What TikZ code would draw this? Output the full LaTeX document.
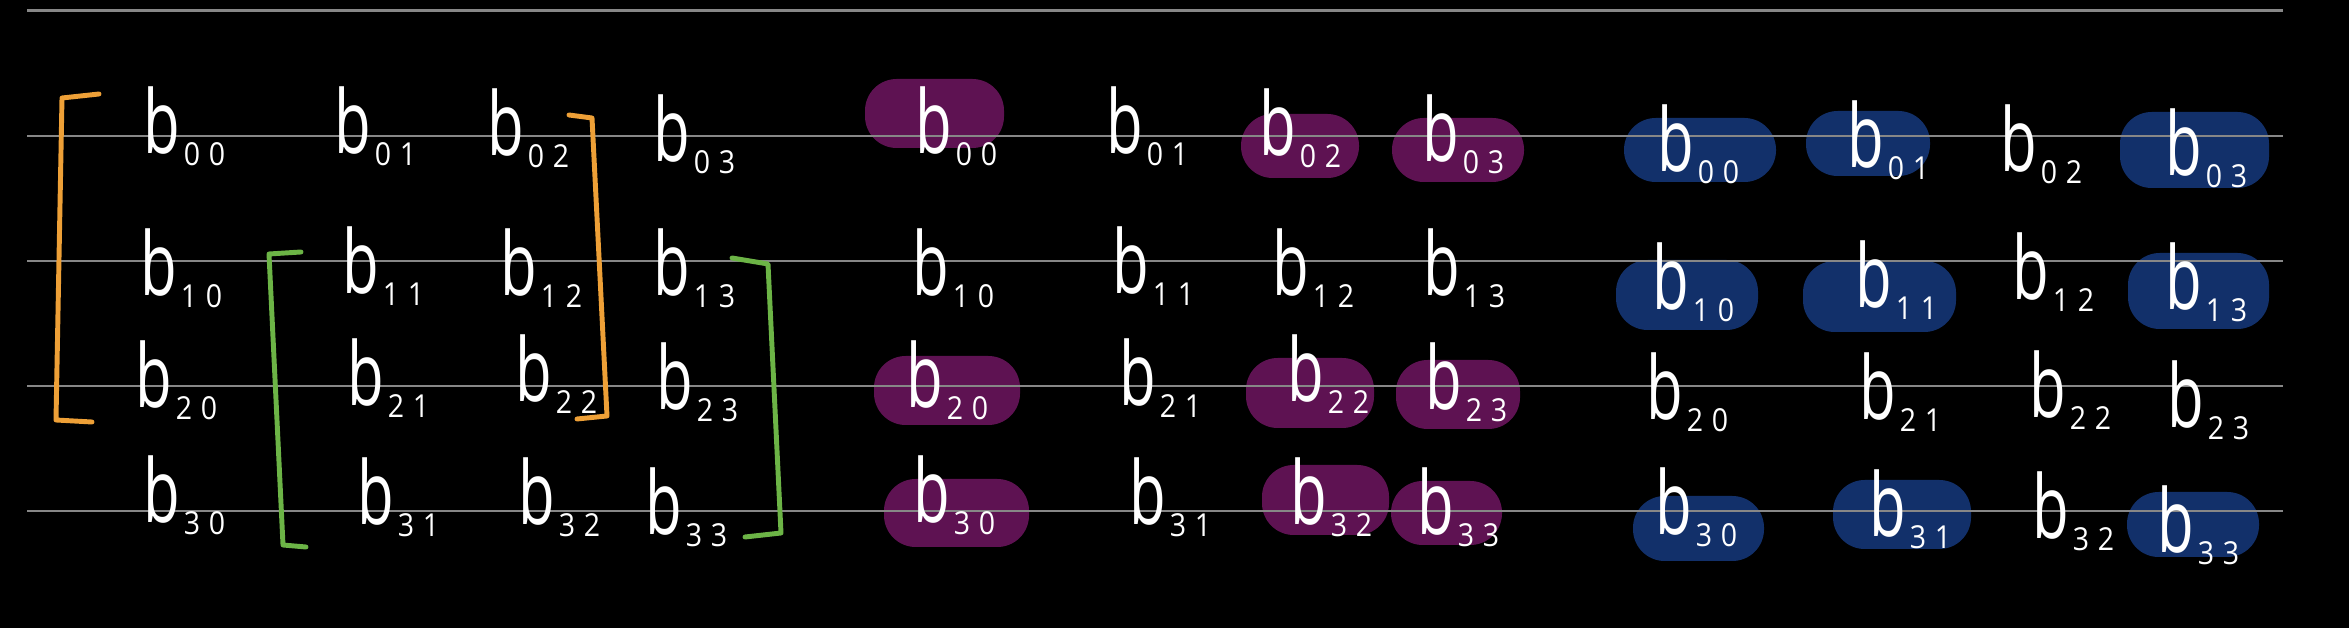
\documentclass[tikz,border=0pt]{standalone}
\usepackage{fontspec}
\usepackage{graphicx}
\setmainfont{Open Sans}
\definecolor{rulegray}{RGB}{135,135,135}
\definecolor{orng}{RGB}{238,160,55}
\definecolor{grn}{RGB}{108,180,70}
\definecolor{plum}{RGB}{94,18,82}
\definecolor{navy}{RGB}{18,48,106}
\newcommand{\bsub}[2]{\scalebox{0.68}[1]{b}\kern1pt\raisebox{-3.4pt}{\fontsize{9}{9}\selectfont\scalebox{0.9}[1]{#1}\kern2.5pt\scalebox{0.9}[1]{#2}}}
\tikzset{
  lab/.style={text=white, inner sep=0pt, anchor=base west, font=\fontsize{25}{25}\selectfont},
  rulel/.style={draw=rulegray, line width=0.6pt},
  brk/.style={line width=1.4pt, line cap=round, line join=round},
  blobP/.style={fill=plum, rounded corners=9pt},
  blobB/.style={fill=navy, rounded corners=9pt}
}
\begin{document}
\begin{tikzpicture}[x=0.01cm,y=-0.01cm]
\fill[black] (0,0) rectangle (2349,628);
\useasboundingbox (0,0) rectangle (2349,628);
% purple blobs
\fill[blobP] (865,79) rectangle (1004,148);
\fill[blobP] (1241,114) rectangle (1359,178);
\fill[blobP] (1392,118) rectangle (1524,182);
\fill[blobP] (874,356) rectangle (1020,425);
\fill[blobP] (1246,358) rectangle (1374,428);
\fill[blobP] (1396,360) rectangle (1520,429);
\fill[blobP] (884,479) rectangle (1029,547);
\fill[blobP] (1262,465) rectangle (1389,535);
\fill[blobP] (1391,481) rectangle (1502,545);
% blue blobs
\fill[blobB] (1624,118) rectangle (1776,182);
\fill[blobB] (1806,111) rectangle (1930,176);
\fill[blobB] (2120,112) rectangle (2269,188);
\fill[blobB] (1616,260) rectangle (1758,330);
\fill[blobB] (1803,261) rectangle (1956,332);
\fill[blobB] (2128,253) rectangle (2269,329);
\fill[blobB] (1633,496) rectangle (1764,561);
\fill[blobB] (1833,480) rectangle (1971,549);
\fill[blobB] (2127,492) rectangle (2259,557);
% ruled lines
\foreach \yy in {10.5,136,261,386,511}{\draw[rulel] (27,\yy) -- (2283,\yy);}
% brackets
\draw[brk, orng] (99,94) -- (62,98) -- (56,420) -- (92,422);
\draw[brk, orng] (569,115) -- (592,118) -- (607,416) -- (577,419);
\draw[brk, grn] (301,252) -- (269,254) -- (283,545) -- (306,547);
\draw[brk, grn] (732,258) -- (768,264) -- (781,533) -- (745,537);
% panel 1
\node[lab] (a00) at (143,154) {\bsub00};
\node[lab] (a01) at (334,154) {\bsub01};
\node[lab] (a02) at (487,156) {\bsub02};
\node[lab] (a03) at (653,162) {\bsub03};
\node[lab] (a10) at (140,296) {\bsub10};
\node[lab] (a11) at (342,294) {\bsub11};
\node[lab] (a12) at (500,296) {\bsub12};
\node[lab] (a13) at (653,296) {\bsub13};
\node[lab] (a20) at (135,408) {\bsub20};
\node[lab] (a21) at (347,406) {\bsub21};
\node[lab] (a22) at (515,402) {\bsub22};
\node[lab] (a23) at (656,410) {\bsub23};
\node[lab] (a30) at (143,523) {\bsub30};
\node[lab] (a31) at (357,525) {\bsub31};
\node[lab] (a32) at (518,525) {\bsub32};
\node[lab] (a33) at (645,535) {\bsub33};
% panel 2
\node[lab] (b00) at (915,154) {\bsub00};
\node[lab] (b01) at (1106,154) {\bsub01};
\node[lab] (b02) at (1259,156) {\bsub02};
\node[lab] (b03) at (1422,162) {\bsub03};
\node[lab] (b10) at (912,296) {\bsub10};
\node[lab] (b11) at (1112,294) {\bsub11};
\node[lab] (b12) at (1272,296) {\bsub12};
\node[lab] (b13) at (1423,296) {\bsub13};
\node[lab] (b20) at (906,408) {\bsub20};
\node[lab] (b21) at (1119,406) {\bsub21};
\node[lab] (b22) at (1287,402) {\bsub22};
\node[lab] (b23) at (1425,410) {\bsub23};
\node[lab] (b30) at (913,523) {\bsub30};
\node[lab] (b31) at (1129,525) {\bsub31};
\node[lab] (b32) at (1290,525) {\bsub32};
\node[lab] (b33) at (1417,535) {\bsub33};
% panel 3
\node[lab] (c00) at (1657,172) {\bsub00};
\node[lab] (c01) at (1847,168) {\bsub01};
\node[lab] (c02) at (2000,172) {\bsub02};
\node[lab] (c03) at (2165,176) {\bsub03};
\node[lab] (c10) at (1652,310) {\bsub10};
\node[lab] (c11) at (1855,308) {\bsub11};
\node[lab] (c12) at (2012,300) {\bsub12};
\node[lab] (c13) at (2165,310) {\bsub13};
\node[lab] (c20) at (1646,420) {\bsub20};
\node[lab] (c21) at (1859,420) {\bsub21};
\node[lab] (c22) at (2029,418) {\bsub22};
\node[lab] (c23) at (2167,428) {\bsub23};
\node[lab] (c30) at (1655,535) {\bsub30};
\node[lab] (c31) at (1869,537) {\bsub31};
\node[lab] (c32) at (2032,539) {\bsub32};
\node[lab] (c33) at (2157,553) {\bsub33};
\end{tikzpicture}
\end{document}
